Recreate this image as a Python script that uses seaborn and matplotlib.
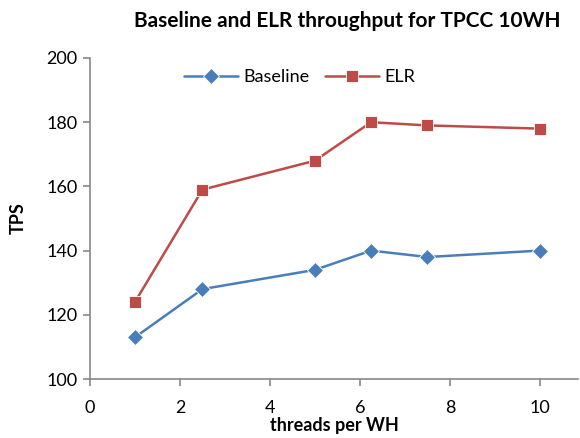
import matplotlib
matplotlib.use("Agg")
import matplotlib.pyplot as plt
import seaborn as sns
import pandas as pd

threads = [1, 2.5, 5, 6.25, 7.5, 10]
baseline_tps = [113, 128, 134, 140, 138, 140]
elr_tps = [124, 159, 168, 180, 179, 178]

df = pd.concat([
    pd.DataFrame({"threads": threads, "TPS": baseline_tps, "series": "Baseline"}),
    pd.DataFrame({"threads": threads, "TPS": elr_tps, "series": "ELR"}),
])

sns.set_style("white")
plt.rcParams["font.family"] = ["Lato", "DejaVu Sans"]
plt.rcParams["text.color"] = "black"
plt.rcParams["axes.labelcolor"] = "black"

fig = plt.figure(figsize=(5.8, 4.38), dpi=100)
ax = fig.add_axes([90 / 580, 1 - 379 / 438, 488 / 580, (379 - 58) / 438])

palette = {"Baseline": "#4a7ebb", "ELR": "#be4b48"}
sns.lineplot(data=df, x="threads", y="TPS", hue="series", style="series",
             markers={"Baseline": "D", "ELR": "s"}, dashes=False,
             palette=palette, markersize=8, linewidth=1.8, ax=ax,
             markeredgewidth=0.6)

ax.set_xlim(0, 10.85)
ax.set_ylim(100, 200)
ax.set_xticks([0, 2, 4, 6, 8, 10])
ax.set_yticks([100, 120, 140, 160, 180, 200])
ax.tick_params(axis="both", labelsize=13, length=5, width=1.2,
               color="#888888", direction="out", bottom=True, left=True,
               labelcolor="black")
ax.tick_params(axis="x", pad=10)
ax.tick_params(axis="y", pad=4)
for side in ["top", "right"]:
    ax.spines[side].set_visible(False)
for side in ["left", "bottom"]:
    ax.spines[side].set_color("#888888")
    ax.spines[side].set_linewidth(1.2)

ax.set_xlabel("threads per WH", fontsize=13, fontweight="bold", labelpad=1)
ax.set_ylabel("TPS", fontsize=13, fontweight="bold", labelpad=14)
fig.text(0.598, 0.953, "Baseline and ELR throughput for TPCC 10WH",
         ha="center", va="center", fontsize=15, fontweight="bold")

leg = ax.legend(loc="upper center", bbox_to_anchor=(0.43, 1.015), ncol=2,
                frameon=False, fontsize=13, handlelength=3.0,
                columnspacing=0.85, handletextpad=0.3)

fig.savefig("out.png", dpi=100)
